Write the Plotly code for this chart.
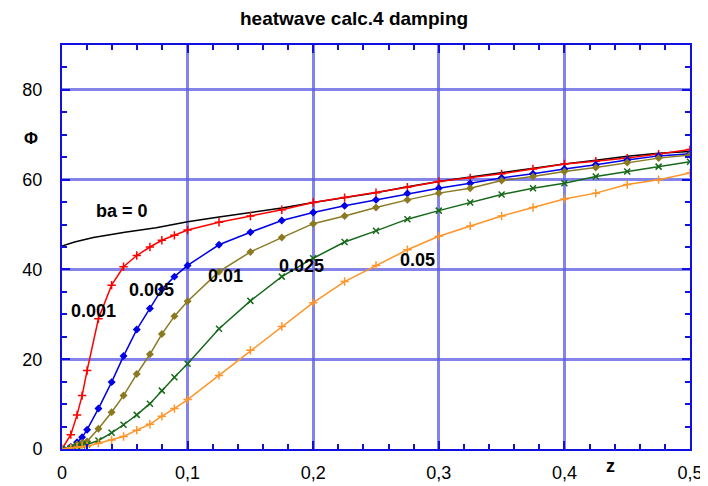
import plotly.graph_objects as go

# ---- data ----
z_pts = [0, 0.007, 0.012, 0.016, 0.02, 0.029, 0.0395, 0.049, 0.0595, 0.07, 0.0795, 0.0895, 0.1,
         0.125, 0.15, 0.175, 0.2, 0.225, 0.25, 0.275, 0.3, 0.325, 0.35, 0.375, 0.4, 0.425, 0.45, 0.475, 0.5]

phi_001 = [0, 3.2, 7.6, 11.9, 17.5, 29.0, 36.5, 40.6, 43.1, 45.0, 46.5, 47.6, 48.8,
           50.5, 51.9, 53.3, 54.9, 56.0, 57.1, 58.3, 59.6, 60.4, 61.3, 62.4, 63.5, 64.1, 64.8, 65.7, 66.7]
phi_005 = [0, 0.5, 1.5, 2.6, 4.3, 9.0, 14.9, 20.7, 26.6, 31.3, 35.6, 38.4, 40.9,
           45.5, 48.3, 50.9, 52.7, 54.2, 55.5, 56.9, 58.1, 59.2, 60.4, 61.3, 62.4, 63.3, 64.4, 65.3, 65.8]
phi_01 = [0, 0.3, 1.0, 1.4, 1.7, 4.5, 8.2, 11.9, 16.7, 21.1, 25.6, 29.6, 32.9,
          39.5, 43.9, 47.1, 50.2, 51.9, 53.8, 55.5, 57.0, 58.1, 59.8, 60.7, 61.8, 62.7, 63.8, 64.8, 65.5]
phi_025 = [0, 0.2, 0.6, 0.8, 1.0, 1.9, 3.6, 5.4, 7.6, 10.1, 13.0, 16.0, 19.0,
           26.8, 33.0, 38.4, 42.5, 46.1, 48.6, 51.2, 53.1, 54.9, 56.7, 58.1, 59.2, 60.7, 61.8, 62.9, 64.0]
phi_05 = [0, 0.3, 0.4, 0.5, 0.6, 1.3, 2.0, 2.8, 4.2, 5.5, 7.3, 9.0, 11.0,
          16.4, 22.0, 27.3, 32.6, 37.3, 40.9, 44.4, 47.4, 49.7, 51.9, 53.8, 55.7, 57.0, 58.9, 60.0, 61.5]

z_ba0 = [0, 0.01, 0.025, 0.05, 0.075, 0.1, 0.125, 0.15, 0.175, 0.2, 0.225, 0.25, 0.275,
         0.3, 0.325, 0.35, 0.375, 0.4, 0.425, 0.45, 0.475, 0.5]
phi_ba0 = [45.2, 46.1, 47.1, 48.3, 49.3, 50.6, 51.7, 52.7, 53.7, 54.9, 56.0, 57.1, 58.4,
           59.6, 60.6, 61.6, 62.6, 63.5, 64.3, 65.2, 65.9, 66.3]

x_tickvals = [0, 0.1, 0.2, 0.3, 0.4, 0.5]
x_ticktext = ["0", "0,1", "0,2", "0,3", "0,4", "0,5"]
y_tickvals = [0, 20, 40, 60, 80]

labels = ["ba = 0", "0.001", "0.005", "0.01", "0.025", "0.05"]
label_x = [0.0474, 0.0251, 0.0713, 0.1302, 0.1903, 0.283]
label_y = [53.1, 30.7, 35.4, 38.6, 40.8, 42.1]

# ---- figure ----
fig = go.Figure()
fig.add_trace(go.Scatter(x=z_ba0, y=phi_ba0, mode="lines", line=dict(color="black", width=1.5)))

series = [
    (phi_001, "#ff0000", "cross-thin", 6),
    (phi_005, "#0000e6", "diamond", 4.5),
    (phi_01, "#8a7a22", "diamond", 4.5),
    (phi_025, "#17691a", "x-thin", 6),
    (phi_05, "#ff9428", "cross-thin", 6),
]
for ys, col, sym, sz in series:
    fig.add_trace(go.Scatter(
        x=z_pts, y=ys, mode="lines+markers",
        line=dict(color=col, width=1.5),
        marker=dict(symbol=sym, size=sz, color=col, line=dict(color=col, width=1.5)),
    ))

for t, lx, ly in zip(labels, label_x, label_y):
    fig.add_annotation(x=lx, y=ly, text="<b>" + t + "</b>", showarrow=False,
                       font=dict(family="Liberation Sans, Arial", size=18, color="black"))

axis_col = "#1010e0"
grid_col = "rgba(90,90,225,0.75)"

# page body adds an 8px offset, so the figure is sized to fill the rest of the window
fig.update_layout(
    width=700, height=478,
    margin=dict(l=54, r=18, t=37, b=37, autoexpand=False),
    paper_bgcolor="white", plot_bgcolor="white",
    showlegend=False,
    font=dict(family="Liberation Sans, Arial", size=18, color="black"),
)
fig.update_xaxes(
    range=[0, 0.5], tickvals=x_tickvals, ticktext=x_ticktext, automargin=False,
    showline=True, linecolor=axis_col, linewidth=2, mirror="ticks",
    ticks="inside", ticklen=8, tickwidth=2, tickcolor=axis_col,
    showgrid=True, gridcolor=grid_col, gridwidth=3, zeroline=False,
    minor=dict(dtick=0.02, ticks="inside", ticklen=5, tickwidth=1.5, tickcolor=axis_col, showgrid=False),
    ticklabelstandoff=6,
)
fig.update_yaxes(
    range=[0, 90], tickvals=y_tickvals, automargin=False,
    showline=True, linecolor=axis_col, linewidth=2, mirror="ticks",
    ticks="inside", ticklen=8, tickwidth=2, tickcolor=axis_col,
    showgrid=True, gridcolor=grid_col, gridwidth=3, zeroline=False,
    minor=dict(dtick=5, ticks="inside", ticklen=5, tickwidth=1.5, tickcolor=axis_col, showgrid=False),
    ticklabelstandoff=14,
)
fig.add_annotation(xref="paper", yref="paper", x=0.465, y=1.066, text="<b>heatwave calc.4 damping</b>",
                   showarrow=False, yanchor="middle", font=dict(size=19))
fig.add_annotation(xref="paper", yref="paper", x=-0.064, y=0.797, text="<b>Φ</b>", showarrow=False,
                   font=dict(size=17))
fig.add_annotation(xref="paper", yref="paper", x=0.884, y=-0.042, text="<b>z</b>", showarrow=False,
                   yanchor="middle", font=dict(size=18))

fig.write_html("out.html")
